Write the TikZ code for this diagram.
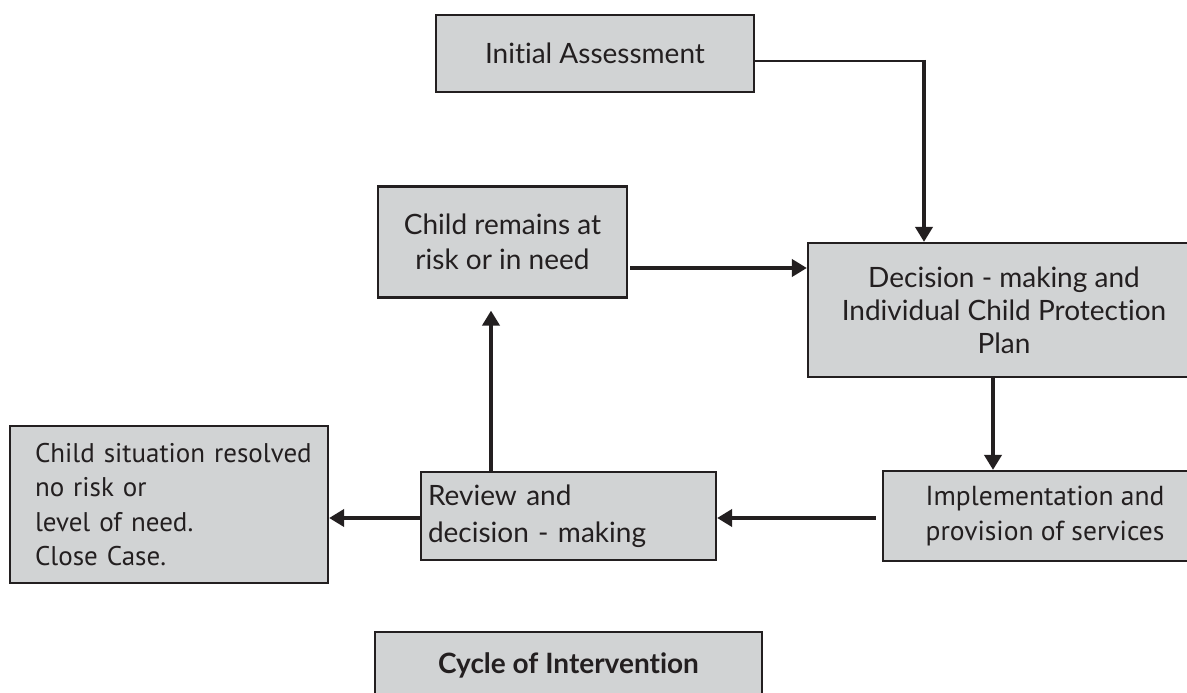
\documentclass[tikz,border=0pt]{standalone}
\usepackage{fontspec}
\setmainfont{Lato}[Ligatures=NoCommon]
\newfontfamily\myriadlike{PT Sans}[Ligatures=NoCommon]
\usetikzlibrary{arrows.meta,calc}
\definecolor{boxfill}{HTML}{D1D3D4}
\definecolor{ink}{HTML}{231F20}
\tikzset{
  box/.style={draw=ink, fill=boxfill, line width=2.2pt, inner sep=0pt,
    text=ink, font=\fontsize{28}{35}\selectfont},
  flow/.style={draw=ink, line width=4.5pt,
    -{Triangle[length=15pt,width=17pt]}},
  feed/.style={draw=ink, line width=2pt},
}
\begin{document}
\begin{tikzpicture}[x=1pt,y=-1pt]
\useasboundingbox (0,0) rectangle (1187,693);
\clip (0,0) rectangle (1187,693);

% boxes
\node[box, minimum width=318pt, minimum height=77pt] (init) at (595,53.5) {Initial Assessment};
\node[box, minimum width=249pt, minimum height=111pt, align=center] (remain) at (502.5,242)
  {Child remains at\\risk or in need};
\node[box, minimum width=392pt, minimum height=134pt, align=center,
  font=\fontsize{28}{33}\selectfont] (dec) at (1004,310)
  {Decision - making and\\Individual Child Protection\\Plan};
\node[box, minimum width=324pt, minimum height=90pt, align=center,
  font=\myriadlike\fontsize{27.5}{35}\selectfont] (impl) at (1045,516)
  {Implementation and\\provision of services};
\node[box, minimum width=295pt, minimum height=88pt, inner xsep=7pt, text width=281pt,
  align=left, font=\fontsize{28}{37}\selectfont] (review) at (568.5,516)
  {Review and\\decision - making};
\node[box, minimum width=318pt, minimum height=157pt, inner xsep=25pt, text width=268pt,
  align=left, font=\myriadlike\fontsize{27}{34.5}\selectfont] (resolved) at (169,504.5)
  {\mbox{Child situation resolved}\\no risk or\\level of need.\\Close Case.};
\node[box, minimum width=387pt, minimum height=66pt, font=\bfseries\fontsize{28}{35}\selectfont]
  (cycle) at (568.5,665) {Cycle of Intervention};

% connectors
\coordinate (corner) at (924,61);
\draw[feed] (init.east |- corner) -- ([xshift=1pt]corner);
\draw[flow] ([yshift=1pt]corner) -- (corner |- dec.north);
\draw[flow] ($(remain.east)+(2,26)$) -- ($(remain.east -| dec.west)+(0,26)$);
\draw[flow] ($(dec.south)+(-11,0)$) -- ($(dec.south |- impl.north)+(-11,0)$);
\draw[flow] ($(impl.west)+(-6,2)$) -- ($(review.east)+(0,2)$);
\draw[flow] ($(review.west)+(0,2)$) -- ($(review.west -| resolved.east)+(0,2)$);
\draw[flow] ($(review.north)+(-77.5,0)$) -- ($(review.north |- remain.south)+(-77.5,12)$);
\end{tikzpicture}
\end{document}
